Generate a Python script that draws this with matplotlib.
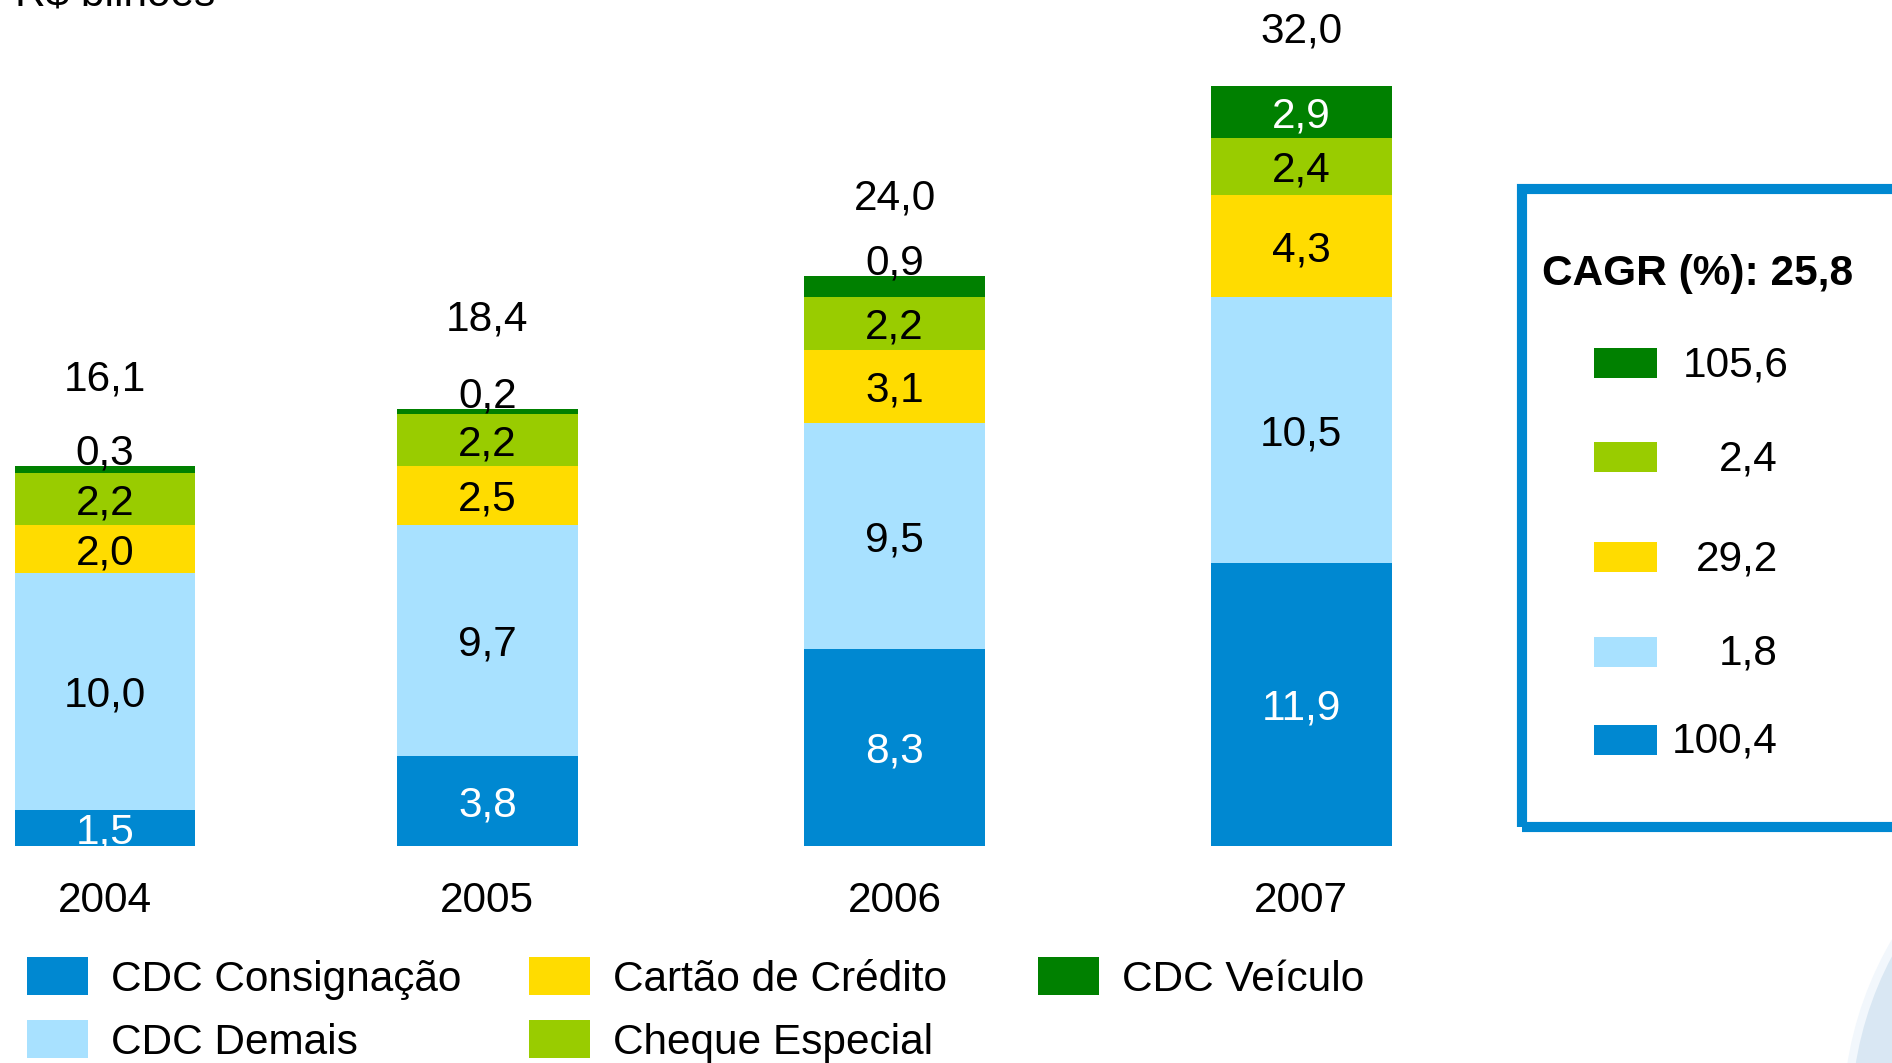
import matplotlib
matplotlib.use("Agg")
import matplotlib.pyplot as plt
from matplotlib.patches import Rectangle, Ellipse
import numpy as np

plt.rcParams['font.family'] = ['Liberation Sans', 'DejaVu Sans']

# ---- data ----
years = ["2004", "2005", "2006", "2007"]
series_names = ["CDC Consignação", "CDC Demais", "Cartão de Crédito", "Cheque Especial", "CDC Veículo"]
# bar heights as drawn (R$ bilhões)
cdc_consignacao = [1.5, 3.8, 8.3, 11.9]
cdc_demais = [10.0, 9.7, 9.5, 11.2]
cartao_credito = [2.0, 2.5, 3.1, 4.3]
cheque_especial = [2.2, 2.2, 2.2, 2.4]
cdc_veiculo = [0.3, 0.2, 0.9, 2.2]
# value labels as printed on the chart
lbl_consignacao = ["1,5", "3,8", "8,3", "11,9"]
lbl_demais = ["10,0", "9,7", "9,5", "10,5"]
lbl_cartao = ["2,0", "2,5", "3,1", "4,3"]
lbl_cheque = ["2,2", "2,2", "2,2", "2,4"]
lbl_veiculo = ["0,3", "0,2", "0,9", "2,9"]
totals = ["16,1", "18,4", "24,0", "32,0"]
cagr_title = "CAGR (%): 25,8"
cagr_values = ["105,6", "2,4", "29,2", "1,8", "100,4"]   # top to bottom: Veículo, Cheque, Cartão, Demais, Consignação
unit_label = "R$ bilhões"

# ---- style / layout ----
colors = ["#0088D1", "#A8E1FF", "#FFDC00", "#99CC00", "#008000"]
inside_colors = ["white", "black", "black", "black", "white"]
W, H = 1892, 1063
FS = 30.5
bar_pos = [0.0, 0.959, 1.980, 3.0]
bar_w = 0.453
total_offsets = [3.76, 3.9, 3.4, 2.4]

def fx(px):
    return px / W

def fy(py):
    return 1 - py / H

fig = plt.figure(figsize=(W / 100, H / 100), dpi=100)
fig.patch.set_facecolor("white")

# decorative swoosh bottom-right
fig.patches.append(Ellipse((fx(2200), fy(1120)), 2 * 353 / W, 2 * 353 / H,
                           transform=fig.transFigure, facecolor="#D9E7F3",
                           edgecolor="#F2F7FC", linewidth=6, zorder=0))

ax = fig.add_axes([0, fy(846), 1, 846 / H])
ax.set_facecolor("none")
series = [cdc_consignacao, cdc_demais, cartao_credito, cheque_especial, cdc_veiculo]
labels = [lbl_consignacao, lbl_demais, lbl_cartao, lbl_cheque, lbl_veiculo]
bottom = np.zeros(len(years))
for vals, lbls, col, lc in zip(series, labels, colors, inside_colors):
    vals = np.array(vals)
    ax.bar(bar_pos, vals, bar_w, bottom=bottom, color=col, linewidth=0)
    for x, v, b, txt in zip(bar_pos, vals, bottom, lbls):
        if v < 1.0:
            ax.annotate(txt, (x, b + v + 0.7), xytext=(0, -3), textcoords="offset points",
                        ha="center", va="center", fontsize=FS, color="black")
        else:
            ax.annotate(txt, (x, b + v / 2), xytext=(0, -3), textcoords="offset points",
                        ha="center", va="center", fontsize=FS, color=lc)
    bottom = bottom + vals

for x, top, t, off in zip(bar_pos, bottom, totals, total_offsets):
    ax.annotate(t, (x, top + off), xytext=(0, -2), textcoords="offset points",
                ha="center", va="center", fontsize=FS, color="black")

ax.set_xlim(-105 / 398.77, (W - 105) / 398.77)
ax.set_ylim(0, 846 / 23.75)
ax.set_xticks(bar_pos)
ax.set_xticklabels(years, fontsize=FS)
ax.tick_params(axis="x", length=0, pad=25)
ax.set_yticks([])
for s in ax.spines.values():
    s.set_visible(False)

# unit label (cut at top)
fig.text(fx(15), fy(5), unit_label, fontsize=FS, ha="left", va="baseline")

# bottom legend
leg_cols_patch = [26.5, 528.5, 1037.7]
leg_cols_text = [111, 613, 1122]
leg_rows = [976, 1039]
leg_layout = [(0, 0), (0, 1), (1, 0), (1, 1), (2, 0)]
for name, col, (c, r) in zip(series_names, colors, leg_layout):
    yc = leg_rows[r]
    fig.patches.append(Rectangle((fx(leg_cols_patch[c]), fy(yc + 19)), 61 / W, 38 / H,
                                 transform=fig.transFigure, facecolor=col, linewidth=0))
    fig.text(fx(leg_cols_text[c]), fy(yc + 4), name, fontsize=FS, ha="left", va="center")

# CAGR box
fig.patches.append(Rectangle((fx(1522), fy(827)), (2000 - 1522) / W, (827 - 189) / H,
                             transform=fig.transFigure, facecolor="none",
                             edgecolor="#0088D1", linewidth=7.3))
fig.text(fx(1542), fy(274), cagr_title, fontsize=FS, fontweight="bold", ha="left", va="center")
box_rows = [363, 457, 557, 652, 740]
box_text_right = [1789, 1778, 1778, 1778, 1778]
box_colors = colors[::-1]
for yc, col, val, xr in zip(box_rows, box_colors, cagr_values, box_text_right):
    fig.patches.append(Rectangle((fx(1594), fy(yc + 15)), 63 / W, 30 / H,
                                 transform=fig.transFigure, facecolor=col, linewidth=0))
    fig.text(fx(xr), fy(yc + 2), val, fontsize=FS, ha="right", va="center")

fig.savefig("out.png", dpi=100, facecolor="white")
